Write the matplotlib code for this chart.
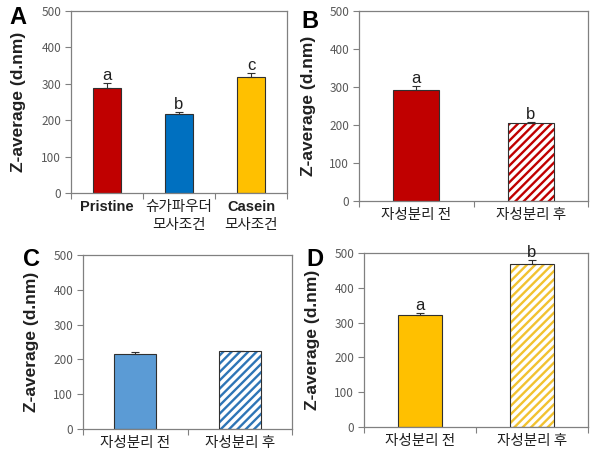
import numpy as np
import matplotlib
matplotlib.use('Agg')
import matplotlib.pyplot as plt

plt.rcParams['font.family'] = ['Noto Sans CJK KR', 'DejaVu Sans']
plt.rcParams['hatch.linewidth'] = 1.7

# panel A
a_labels = ['Pristine', '슈가파우더', 'Casein']
a_labels2 = ['', '모사조건', '모사조건']
a_values = [289, 217, 319]
a_errors = [12, 5, 11]
a_sig = ['a', 'b', 'c']

# panel B, C, D
sep_labels = ['자성분리 전', '자성분리 후']
b_values = [291, 205]
b_errors = [11, 4]
b_sig = ['a', 'b']
c_values = [215, 223]
c_errors = [7, 2]
d_values = [321, 467]
d_errors = [7, 14]
d_sig = ['a', 'b']

W, H = 602, 471
GRAY = '#808080'


def px_axes(fig, left, right, top, bottom):
    return fig.add_axes([left / W, (H - bottom) / H, (right - left) / W, (bottom - top) / H])


def bar_panel(ax, values, errors, colors, hatches, sig=None):
    n = len(values)
    x = np.arange(n)
    for i in range(n):
        if hatches[i]:
            ax.bar(x[i], values[i], width=0.4, color='white', edgecolor=colors[i],
                   hatch=hatches[i], linewidth=0, zorder=2)
            ax.bar(x[i], values[i], width=0.4, color='none', edgecolor='#303030',
                   linewidth=0.8, zorder=3)
        else:
            ax.bar(x[i], values[i], width=0.4, color=colors[i], edgecolor='#303030',
                   linewidth=0.8, zorder=2)
    ax.errorbar(x, values, yerr=[np.zeros(n), errors], fmt='none', ecolor='#303030',
                elinewidth=0.8, capsize=3, capthick=0.8, zorder=4)
    if sig:
        for i in range(n):
            ax.annotate(sig[i], (x[i], values[i] + errors[i]), xytext=(0, 0),
                        textcoords='offset points', ha='center', va='bottom',
                        fontsize=12, color='#202020', family='Liberation Sans')
    ax.set_xlim(-0.5, n - 0.5)
    ax.set_ylim(0, 500)
    ax.set_yticks([0, 100, 200, 300, 400, 500])
    ax.set_xticks(np.arange(n + 1) - 0.5)
    ax.set_xticklabels([])
    ax.set_xticks(x, minor=True)
    ax.tick_params(axis='x', which='major', direction='out', length=4, color=GRAY)
    ax.tick_params(axis='x', which='minor', length=0, pad=5, labelsize=10.5, labelcolor='#202020')
    ax.tick_params(axis='y', direction='out', length=4, color=GRAY, labelsize=8.5,
                   labelcolor='#595959', pad=3)
    for s in ax.spines.values():
        s.set_color(GRAY)
        s.set_linewidth(0.9)


fig = plt.figure(figsize=(W / 100, H / 100), dpi=100)

axA = px_axes(fig, 71, 287, 11, 193)
bar_panel(axA, a_values, a_errors, ['#C00000', '#0070C0', '#FFC000'], [None, None, None], a_sig)
axA.set_xticklabels(a_labels, minor=True)
for lab in axA.get_xticklabels(minor=True):
    if lab.get_text() in ('Pristine', 'Casein'):
        lab.set_fontweight('bold')
        lab.set_fontfamily('Liberation Sans')
for i, t in enumerate(a_labels2):
    axA.annotate(t, (i, 0), xycoords=('data', 'axes fraction'), xytext=(0, -18),
                 textcoords='offset points', ha='center', va='top', fontsize=10.5,
                 color='#202020')

axB = px_axes(fig, 359, 588, 11, 201)
bar_panel(axB, b_values, b_errors, ['#C00000', '#C00000'], [None, '////'], b_sig)
axB.set_xticklabels(sep_labels, minor=True)

axC = px_axes(fig, 83, 292, 255, 429)
bar_panel(axC, c_values, c_errors, ['#5B9BD5', '#2E75B6'], [None, '////'])
axC.set_xticklabels(sep_labels, minor=True)

axD = px_axes(fig, 364, 588, 253, 427)
bar_panel(axD, d_values, d_errors, ['#FFC000', '#F2C230'], [None, '////'], d_sig)
axD.set_xticklabels(sep_labels, minor=True)

# y labels and panel letters
for xp, ax in [(19, axA), (308, axB), (32, axC), (313, axD)]:
    bb = ax.get_position()
    fig.text(xp / W, bb.y0 + bb.height / 2, 'Z-average (d.nm)', rotation=90,
             ha='center', va='center', fontsize=12.5, fontweight='bold',
             color='#202020', family='Liberation Sans')

for xp, yp, letter in [(18, 18, 'A'), (310, 21, 'B'), (31, 259, 'C'), (315, 259, 'D')]:
    fig.text(xp / W, 1 - yp / H, letter, ha='center', va='center', fontsize=17,
             fontweight='bold', color='black', family='Liberation Sans')

fig.savefig('out.png', dpi=100)
